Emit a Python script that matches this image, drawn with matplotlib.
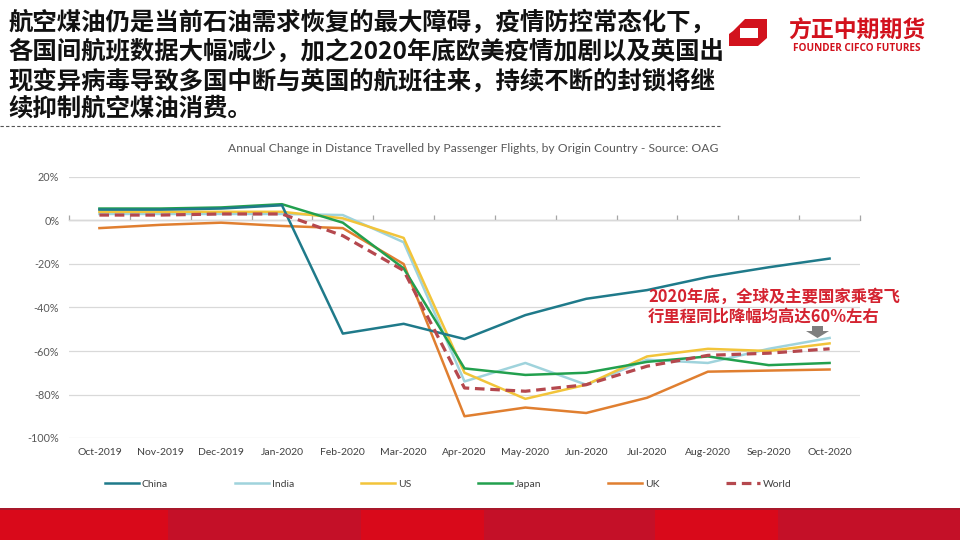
import matplotlib
matplotlib.use("Agg")
import matplotlib.pyplot as plt
from matplotlib.lines import Line2D
from matplotlib.patches import Polygon, Rectangle

# ---------------- data ----------------
months = ["Oct-2019", "Nov-2019", "Dec-2019", "Jan-2020", "Feb-2020", "Mar-2020",
          "Apr-2020", "May-2020", "Jun-2020", "Jul-2020", "Aug-2020", "Sep-2020", "Oct-2020"]
china = [5, 5, 5.5, 7, -52, -47.5, -54.5, -43.5, -36, -32, -26, -21.5, -17.5]
india = [3, 3, 3, 3, 2.5, -10, -74, -65.5, -75.5, -64, -65.5, -59, -54]
us    = [4, 4, 4, 4, 1, -8, -70, -82, -75.5, -62.5, -59, -60, -56.5]
japan = [5.5, 5.5, 6, 7.5, -1, -22, -68, -71, -70, -65, -62.5, -66.5, -65.5]
uk    = [-3.5, -2, -1, -2.5, -3.5, -20, -90, -86, -88.5, -81.5, -69.5, -69, -68.5]
world = [2.5, 2.5, 3, 3, -7, -23, -77, -78.5, -75.5, -67, -62, -61, -59]
yticks = [20, 0, -20, -40, -60, -80, -100]

title_lines = [
    "航空煤油仍是当前石油需求恢复的最大障碍，疫情防控常态化下，",
    "各国间航班数据大幅减少，加之2020年底欧美疫情加剧以及英国出",
    "现变异病毒导致多国中断与英国的航班往来，持续不断的封锁将继",
    "续抑制航空煤油消费。",
]
chart_title = "Annual Change in Distance Travelled by Passenger Flights, by Origin Country - Source: OAG"
note_lines = ["2020年底，全球及主要国家乘客飞", "行里程同比降幅均高达60%左右"]
logo_cn = "方正中期期货"
logo_en = "FOUNDER CIFCO FUTURES"

# ---------------- figure ----------------
W, H = 960, 540
fig = plt.figure(figsize=(9.6, 5.4), dpi=100)
fig.patch.set_facecolor("white")

def fx(px):
    return px / W

def fy(py):
    return 1 - py / H

CJK = ["Noto Sans CJK SC", "DejaVu Sans"]
LAT = ["Lato", "DejaVu Sans"]

# headline text
line_y = [22, 52, 81, 109]
for t, yy in zip(title_lines, line_y):
    fig.text(fx(8), fy(yy), t, family=CJK, fontsize=17.6, fontweight="bold",
             color="#111111", ha="left", va="center")

# dashed separator
fig.add_artist(Line2D([0, fx(720)], [fy(126), fy(126)], transform=fig.transFigure,
                      color="#555555", lw=0.8, linestyle=(0, (3, 2))))

# logo
red_logo = "#d2121d"
outer = [(742, 19), (767, 19), (767, 38), (758, 46), (729, 46), (729, 32)]
fig.add_artist(Polygon([(fx(a), fy(b)) for a, b in outer], closed=True,
                       transform=fig.transFigure, facecolor=red_logo, edgecolor="none"))
inner = [(740, 28), (758, 28), (758, 38), (740, 38)]
fig.add_artist(Polygon([(fx(a), fy(b)) for a, b in inner], closed=True,
                       transform=fig.transFigure, facecolor="white", edgecolor="none"))
cut = [(729, 30), (741, 19), (745, 19), (733, 31), (729, 34)]
fig.add_artist(Polygon([(fx(a), fy(b)) for a, b in cut], closed=True,
                       transform=fig.transFigure, facecolor="white", edgecolor="none"))
fig.text(fx(857), fy(31), logo_cn, family=CJK, fontsize=16.5, fontweight="bold",
         color=red_logo, ha="center", va="center")
fig.text(fx(857), fy(48.5), logo_en, family=["Open Sans", "DejaVu Sans"],
         fontsize=7.2, fontweight="bold", color=red_logo, ha="center", va="center")

# bottom red band
band_top = 508
edges = [0, 168, 361, 484, 655, 778, 960]
cols = ["#d9091a", "#c41028", "#d9091a", "#c41028", "#d9091a", "#c41028"]
for i in range(len(cols)):
    x0, x1 = edges[i], edges[i + 1]
    fig.add_artist(Rectangle((fx(x0), 0), fx(x1 - x0) + 0.001, fy(band_top),
                             transform=fig.transFigure, facecolor=cols[i], edgecolor="none"))
fig.add_artist(Rectangle((0, fy(band_top + 2)), 1, 2 / H,
                         transform=fig.transFigure, facecolor="#a8182a", edgecolor="none"))

# chart title
fig.text(fx(473), fy(148), chart_title, family=LAT, fontsize=8.7, color="#595959",
         ha="center", va="center")

# ---------------- axes ----------------
ax_left, ax_right, ax_top, ax_bot = 69, 860, 177, 438
ax = fig.add_axes([fx(ax_left), fy(ax_bot), fx(ax_right - ax_left), (ax_bot - ax_top) / H])
ax.set_xlim(-0.5, len(months) - 0.5)
ax.set_ylim(-100, 20)
for s in ax.spines.values():
    s.set_visible(False)
ax.set_yticks(yticks)
ax.set_yticklabels([f"{v}%" for v in yticks])
ax.yaxis.grid(True, color="#d9d9d9", lw=0.9)
ax.set_axisbelow(True)
ax.tick_params(axis="y", length=0, pad=7, labelsize=7.8, labelcolor="#595959")
for lab in ax.get_yticklabels():
    lab.set_family(LAT)
xs = list(range(len(months)))
ax.set_xticks(xs)
ax.set_xticklabels(months)
ax.tick_params(axis="x", length=0, pad=7, labelsize=7.5, labelcolor="#404040")
for lab in ax.get_xticklabels():
    lab.set_family(LAT)

# category axis at zero with boundary tick marks
sec = ax.secondary_xaxis(100 / 120)
for k, s in sec.spines.items():
    s.set_visible(k == "bottom")
sec.spines["bottom"].set_color("#a6a6a6")
sec.spines["bottom"].set_linewidth(0.9)
sec.set_xticks([i - 0.5 for i in range(len(months) + 1)])
sec.set_xticklabels([])
sec.tick_params(axis="x", direction="out", length=3.5, width=0.9, color="#a6a6a6")

c_china, c_india, c_us, c_japan, c_uk, c_world = (
    "#1f7a8a", "#9fd3dc", "#f2c43a", "#22a04e", "#e07f30", "#b5484e")
ax.plot(xs, india, color=c_india, lw=1.8, label="India", zorder=3)
ax.plot(xs, us, color=c_us, lw=1.8, label="US", zorder=3)
ax.plot(xs, uk, color=c_uk, lw=1.8, label="UK", zorder=3)
ax.plot(xs, japan, color=c_japan, lw=1.8, label="Japan", zorder=4)
ax.plot(xs, china, color=c_china, lw=1.8, label="China", zorder=4)
ax.plot(xs, world, color=c_world, lw=2.3, linestyle=(0, (3, 1.8)), label="World", zorder=5)

# legend
order = ["China", "India", "US", "Japan", "UK", "World"]
hmap = {l.get_label(): l for l in ax.get_lines()}
leg = fig.legend([hmap[k] for k in order], order, loc="center left",
                 bbox_to_anchor=(fx(105), fy(484)), ncol=6, frameon=False,
                 borderpad=0, borderaxespad=0, handlelength=3.3, handletextpad=0.25,
                 columnspacing=6.4, prop={"family": LAT, "size": 7.5})
for t in leg.get_texts():
    t.set_color("#404040")

# annotation
red_note = "#d42330"
fig.text(fx(648), fy(297), note_lines[0], family=CJK, fontsize=11.8, fontweight="bold",
         color=red_note, ha="left", va="center")
fig.text(fx(648), fy(317), note_lines[1], family=CJK, fontsize=11.8, fontweight="bold",
         color=red_note, ha="left", va="center")
arrow = [(812, 326), (823, 326), (823, 331), (829, 331), (817.5, 338), (806, 331), (812, 331)]
fig.add_artist(Polygon([(fx(a), fy(b)) for a, b in arrow], closed=True,
                       transform=fig.transFigure, facecolor="#7f7f7f", edgecolor="none"))

fig.savefig("out.png", dpi=100)
